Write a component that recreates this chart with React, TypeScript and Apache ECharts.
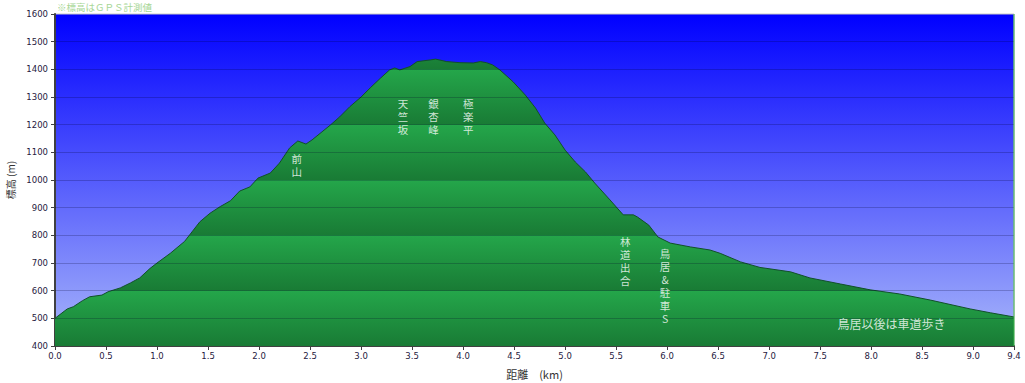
import React, { useEffect, useRef } from "react";
import * as echarts from "echarts";

// Elevation profile (distance km, elevation m)
const distanceKm = [
  0.0, 0.12, 0.18, 0.27, 0.34, 0.46, 0.52, 0.64, 0.74, 0.83, 0.93, 1.0, 1.13, 1.27, 1.42, 1.52,
  1.62, 1.72, 1.81, 1.91, 1.99, 2.11, 2.2, 2.3, 2.38, 2.46, 2.52, 2.7, 2.79, 2.89, 3.0, 3.09,
  3.19, 3.28, 3.33, 3.38, 3.48, 3.55, 3.68, 3.73, 3.84, 3.97, 4.1, 4.17, 4.23, 4.29, 4.36, 4.49,
  4.61, 4.71, 4.8, 4.9, 5.0, 5.1, 5.2, 5.29, 5.44, 5.57, 5.67, 5.71, 5.82, 5.91, 6.03, 6.23,
  6.42, 6.52, 6.72, 6.91, 7.21, 7.4, 7.7, 7.99, 8.28, 8.58, 8.97, 9.17, 9.4,
];
const elevationM = [
  500, 534, 542, 564, 578, 584, 596, 610, 628, 646, 680, 700, 735, 778, 849, 880,
  904, 925, 960, 975, 1007, 1025, 1061, 1116, 1141, 1130, 1145, 1199, 1228, 1265, 1300, 1333,
  1368, 1398, 1405, 1398, 1410, 1428, 1434, 1437, 1428, 1424, 1423, 1428, 1424, 1416, 1398, 1355,
  1307, 1260, 1206, 1163, 1108, 1065, 1029, 989, 928, 874, 874, 866, 837, 794, 772, 758,
  747, 735, 704, 684, 668, 646, 624, 603, 588, 566, 534, 520, 505,
];

// Horizontal grid lines (m)
const gridLinesM = [500, 600, 700, 800, 900, 1000, 1100, 1200, 1300, 1400, 1500];

// Place-name annotations
const annoText = ["前山", "天竺坂", "銀杏峰", "極楽平", "林道出合", "鳥居&駐車S"];
const annoX = [2.37, 3.41, 3.71, 4.05, 5.59, 5.98];
const annoY = [1054, 1231, 1231, 1231, 707, 617];
const noteRoadText = "鳥居以後は車道歩き";
const noteRoadX = 8.2;
const noteRoadY = 483;

const topNote = "※標高はＧＰＳ計測値";

export default function App() {
  const ref = useRef<HTMLDivElement>(null);
  useEffect(() => {
    document.body.style.margin = "0";
    if (!ref.current) return;
    const chart = echarts.init(ref.current, undefined, { renderer: "svg" });

    const light = "#24a64a";
    const dark = "#197b35";
    const stops: { offset: number; color: string }[] = [];
    for (let k = 0; k < 6; k++) {
      stops.push({ offset: k / 6 + 0.001, color: light });
      stops.push({ offset: (k + 1) / 6 - 0.001, color: dark });
    }
    const areaGrad = new echarts.graphic.LinearGradient(0, 14, 0, 346, stops, true);

    const labelFont = "DejaVu Sans";
    const cjk = "Noto Sans CJK JP";

    chart.setOption({
      animation: false,
      textStyle: { fontFamily: labelFont },
      grid: {
        left: 55,
        right: 11,
        top: 14,
        bottom: 37,
        outerBoundsMode: "none",
        containLabel: false,
        show: true,
        backgroundColor: new echarts.graphic.LinearGradient(0, 0, 0, 1, [
          { offset: 0, color: "#0000ff" },
          { offset: 1, color: "#a9b7fa" },
        ]),
        borderColor: "#c8c8c8",
        borderWidth: 1,
      },
      xAxis: {
        type: "value",
        min: 0,
        max: 9.4,
        interval: 0.5,
        name: "距離　(km)",
        nameLocation: "middle",
        nameGap: 22,
        nameTextStyle: { fontFamily: cjk, fontSize: 11, color: "#333" },
        axisLine: { show: true, onZero: false, lineStyle: { color: "#404040", width: 2 } },
        axisTick: { show: true, length: 4, lineStyle: { color: "#404040" } },
        axisLabel: {
          formatter: (v: number) => v.toFixed(1),
          fontSize: 8.5,
          color: "#1f2040",
          margin: 5,
        },
        splitLine: { show: false },
      },
      yAxis: {
        type: "value",
        min: 400,
        max: 1600,
        interval: 100,
        name: "標高 (m)",
        nameLocation: "middle",
        nameGap: 40,
        nameTextStyle: { fontFamily: cjk, fontSize: 10, color: "#333" },
        axisLine: { show: true, lineStyle: { color: "#404040", width: 2 } },
        axisTick: { show: true, length: 4, lineStyle: { color: "#404040" } },
        axisLabel: {
          formatter: (v: number) => String(v),
          fontSize: 8.5,
          color: "#1f2040",
          margin: 7,
        },
        splitLine: { show: false },
      },
      graphic: [
        {
          type: "text",
          left: 57,
          top: 2,
          style: { text: topNote, fill: "#a6d694", font: `9.5px "${cjk}"` },
        },
        {
          type: "line",
          shape: { x1: 1014, y1: 14, x2: 1014, y2: 346 },
          style: { stroke: "#3cb44b", lineWidth: 1 },
          z: 10,
        },
      ],
      series: [
        {
          type: "line",
          data: distanceKm.map((d, i) => [d, elevationM[i]]),
          showSymbol: false,
          symbol: "none",
          lineStyle: { color: "#12502a", width: 1 },
          areaStyle: { color: areaGrad, opacity: 1 },
          markLine: {
            silent: true,
            symbol: ["none", "none"],
            label: { show: false },
            lineStyle: { color: "rgba(0,0,40,0.22)", type: "solid", width: 1 },
            data: gridLinesM.map((v) => ({ yAxis: v })),
          },
          z: 2,
        },
        {
          type: "scatter",
          silent: true,
          symbolSize: 1,
          itemStyle: { color: "rgba(0,0,0,0)" },
          label: {
            show: true,
            position: "inside",
            formatter: (p: any) => p.name,
            color: "#ffffff",
            fontFamily: cjk,
            fontSize: 10.5,
            lineHeight: 13,
          },
          data: [
            ...annoText.map((t, i) => ({
              name: t.split("").join("\n"),
              value: [annoX[i], annoY[i]],
            })),
            {
              name: noteRoadText,
              value: [noteRoadX, noteRoadY],
              label: { fontSize: 12, lineHeight: 14 },
            },
          ],
          z: 5,
        },
      ],
    });
    return () => chart.dispose();
  }, []);
  return <div ref={ref} style={{ width: 1025, height: 383 }} />;
}
